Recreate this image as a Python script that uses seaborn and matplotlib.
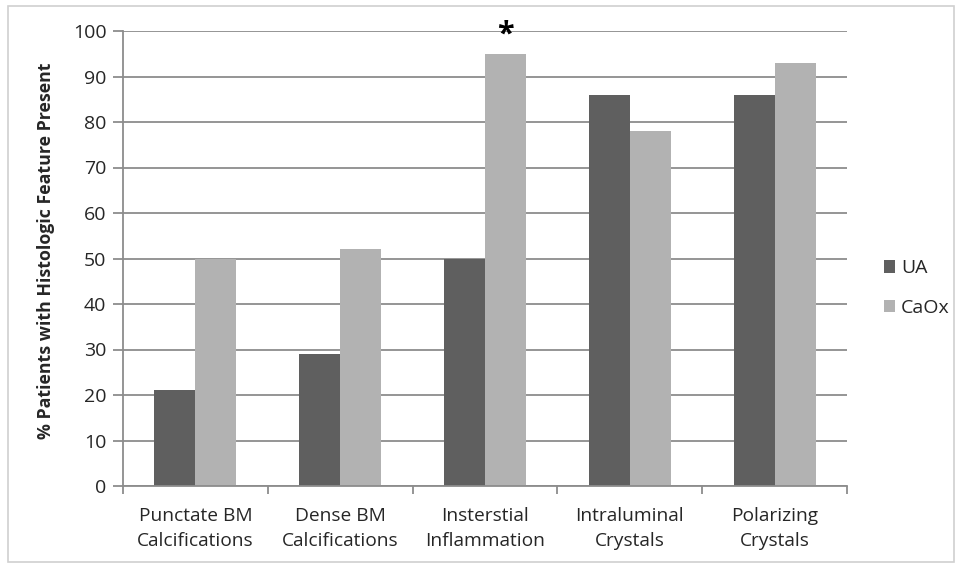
import matplotlib
matplotlib.use("Agg")
import matplotlib.pyplot as plt
import seaborn as sns
import pandas as pd
import numpy as np
from matplotlib.patches import Rectangle, Patch

categories = ["Punctate BM\nCalcifications", "Dense BM\nCalcifications",
              "Insterstial\nInflammation", "Intraluminal\nCrystals", "Polarizing\nCrystals"]
ua_values = [21, 29, 50, 86, 86]
caox_values = [50, 52, 95, 78, 93]
series_names = ["UA", "CaOx"]
y_ticks = list(range(0, 101, 10))

df = pd.DataFrame({
    "category": categories * 2,
    "value": ua_values + caox_values,
    "series": [series_names[0]] * len(categories) + [series_names[1]] * len(categories),
})

sns.set_style("white")
plt.rcParams["font.family"] = ["Open Sans", "DejaVu Sans"]

fig = plt.figure(figsize=(9.63, 5.68), dpi=100)
ax = fig.add_axes([123 / 963, 1 - 486 / 568, (847 - 123) / 963, (486 - 31) / 568])

grid_c = "#8c8c8c"
sns.barplot(data=df, x="category", y="value", hue="series", order=categories,
            hue_order=series_names, palette=["#5f5f5f", "#b2b2b2"],
            width=0.566, gap=0, dodge=True, ax=ax, legend=False, zorder=3,
            edgecolor="none", linewidth=0)

ax.set_ylim(0, 100)
ax.set_xlim(-0.5, len(categories) - 0.5)
ax.set_yticks(y_ticks)
ax.yaxis.grid(True, color=grid_c, linewidth=1.3, zorder=0)
ax.set_axisbelow(True)
for s in ["top", "right"]:
    ax.spines[s].set_visible(False)
for s in ["left", "bottom"]:
    ax.spines[s].set_color(grid_c)
    ax.spines[s].set_linewidth(1.3)
    ax.spines[s].set_zorder(4)

ax.tick_params(axis="y", which="major", direction="out", length=7, color=grid_c,
               width=1.3, labelsize=14, pad=5, left=True)
ax.set_xticks(np.arange(len(categories)))
ax.set_xticklabels(categories, fontsize=13.8, linespacing=1.5)
ax.tick_params(axis="x", which="major", length=0, pad=15)
ax.set_xticks(np.arange(-0.5, len(categories)), minor=True)
ax.tick_params(axis="x", which="minor", direction="out", length=6, color=grid_c,
               width=1.3, bottom=True)
ax.set_xlabel("")
ax.set_ylabel("% Patients with Histologic Feature Present", fontsize=12.8,
              fontweight="bold")
ax.yaxis.set_label_coords(-68 / 724, (486 - 251) / 455)

# significance marker
ax.text(2 + 0.566 / 4, 99.3, "*", ha="center", va="center", fontsize=22,
        fontweight="bold", color="black", clip_on=False)

# legend
handles = [Patch(facecolor="#5f5f5f", edgecolor="none"),
           Patch(facecolor="#b2b2b2", edgecolor="none")]
fig.legend(handles, series_names, loc="center left", bbox_to_anchor=(866 / 963, 1 - 288 / 568),
           frameon=False, fontsize=14, handlelength=0.6, handleheight=0.6,
           handletextpad=0.3, labelspacing=1.1)

# outer frame
fig.patches.append(Rectangle((8 / 963, 6 / 568), 946 / 963, 556 / 568,
                             transform=fig.transFigure, fill=False,
                             edgecolor="#d0d0d0", linewidth=1.2))

fig.savefig("out.png", dpi=100)
